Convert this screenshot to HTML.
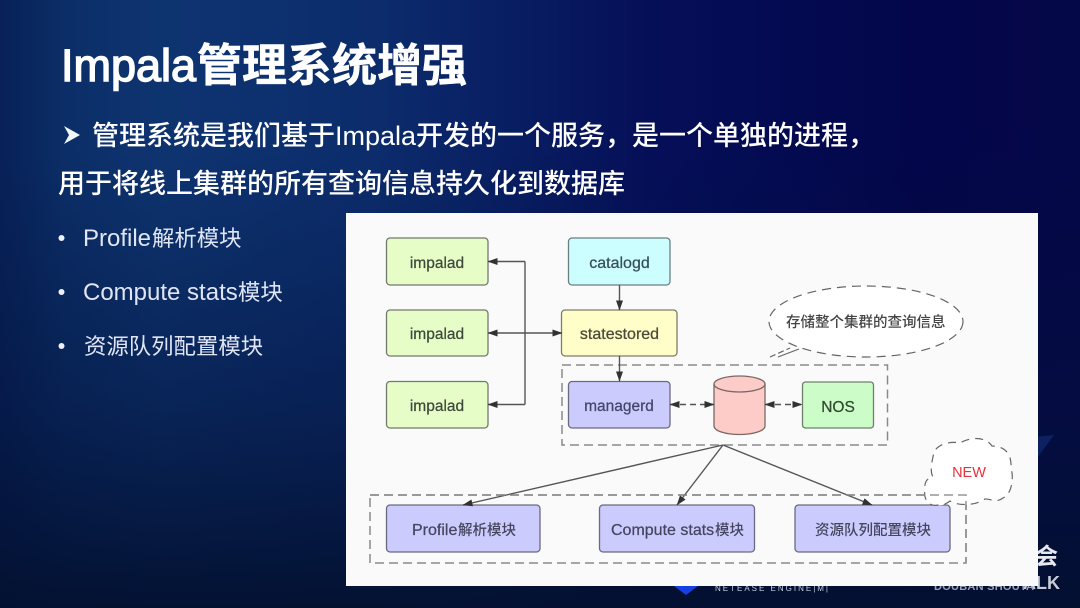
<!DOCTYPE html>
<html><head><meta charset="utf-8"><style>
html,body{margin:0;padding:0;background:#050a3a}
svg{display:block;width:1080px;height:608px}
text{font-family:"Liberation Sans","Noto Sans CJK SC",sans-serif}
</style></head><body>
<svg xmlns="http://www.w3.org/2000/svg" width="1080" height="608" viewBox="0 0 1080 608">
<defs>
<linearGradient id="bg" x1="0" y1="0" x2="1" y2="0">
<stop offset="0" stop-color="#0a2a62"/><stop offset=".15" stop-color="#0e3470"/><stop offset=".35" stop-color="#0c2c6c"/><stop offset=".6" stop-color="#050f58"/><stop offset=".85" stop-color="#03064a"/><stop offset="1" stop-color="#040748"/>
</linearGradient>
<linearGradient id="fade" x1="0" y1="0" x2="0" y2="1">
<stop offset=".25" stop-color="#03123a" stop-opacity="0"/><stop offset=".65" stop-color="#03123a" stop-opacity=".45"/><stop offset="1" stop-color="#03102f" stop-opacity=".95"/>
</linearGradient>
<linearGradient id="edge" x1="0" y1="0" x2="1" y2="0">
<stop offset="0" stop-color="#04154a" stop-opacity=".4"/><stop offset=".06" stop-color="#04154a" stop-opacity="0"/>
</linearGradient>
<marker id="a" viewBox="0 0 10 7" refX="9.500" refY="3.500" markerWidth="10" markerHeight="7" orient="auto-start-reverse" markerUnits="userSpaceOnUse"><path d="M0 0L10 3.500L0 7Z" fill="#333"/></marker>
<filter id="s" x="-2%" y="-2%" width="104%" height="104%"><feGaussianBlur stdDeviation=".35"/></filter>
</defs>
<rect width="1080" height="608" fill="url(#bg)"/>
<rect width="1080" height="608" fill="url(#edge)"/>
<rect width="1080" height="608" fill="url(#fade)"/>
<g filter="url(#s)">
<path d="M1003 440L1054 435L1032 465Z" fill="#14307a" opacity=".55"/>
<path d="M674 586H698L686 595Z" fill="#1540e0"/>
<text x="715" y="591" font-size="8" fill="#c8d0e0" textLength="113" lengthAdjust="spacing">NETEASE ENGINE|M|</text>
<text x="1035" y="564" font-size="23" fill="#e8e8f0" font-weight="700">会</text>
<text x="1060" y="589" font-size="18" fill="#c6cbd8" font-weight="700" text-anchor="end">ALK</text>
<text x="934" y="590" font-size="11" fill="#9aa2b8" font-weight="700" textLength="100" lengthAdjust="spacing">DOUBAN SHOUTA</text>

<text x="61" y="81" font-size="45" fill="#fff" stroke="#fff" stroke-width="1.400">Impala</text>
<text x="197" y="81" font-size="45" font-weight="700" fill="#fff" stroke="#fff" stroke-width=".5">管理系统增强</text>
<path d="M64 126L80 135L64 144L69 135Z" fill="#f2f4fa"/>
<text x="92" y="145" font-size="27" font-weight="500" fill="#fff">管理系统是我们基于<tspan x="335">Impala</tspan><tspan x="416">开发的一个服务，是一个单独的进程，</tspan></text>
<text x="58" y="193" font-size="27" font-weight="500" fill="#fff">用于将线上集群的所有查询信息持久化到数据库</text>
<circle cx="61.500" cy="238" r="3" fill="#eef1f8"/><circle cx="61.500" cy="292" r="3" fill="#eef1f8"/><circle cx="61.500" cy="346" r="3" fill="#eef1f8"/>
<g fill="#dfe5f4">
<text x="83" y="246" font-size="24">Profile</text><text x="152" y="246" font-size="22.400">解析模块</text>
<text x="83" y="300" font-size="24">Compute stats</text><text x="238" y="300" font-size="22.400">模块</text>
<text x="84" y="354" font-size="22.400">资源队列配置模块</text>
</g>

<rect x="346" y="213" width="692" height="373" fill="#fafafa"/>

<g stroke="#727a6e" stroke-width="1.300" fill="#e6fdc8">
<rect x="386.500" y="238" width="101.500" height="47" rx="3.500"/>
<rect x="386.500" y="310" width="101.500" height="46" rx="3.500"/>
<rect x="386.500" y="381.500" width="101.500" height="46.500" rx="3.500"/>
</g>
<rect x="568.500" y="238" width="101.500" height="47" rx="3.500" fill="#ccfdff" stroke="#6a7f84" stroke-width="1.300"/>
<rect x="561.500" y="310" width="115.500" height="46" rx="3.500" fill="#fffdc8" stroke="#7e7d6a" stroke-width="1.300"/>
<g fill="#cbcbfd" stroke="#6a6a80" stroke-width="1.300">
<rect x="568.500" y="381.500" width="101.500" height="46.500" rx="3.500"/>
<rect x="386.500" y="505" width="153.500" height="47" rx="3.500"/>
<rect x="599.500" y="505" width="155" height="47" rx="3.500"/>
<rect x="795" y="505" width="155" height="47" rx="3.500"/>
</g>
<rect x="802.500" y="382" width="71" height="46" rx="3" fill="#ccfdc8" stroke="#6e806c" stroke-width="1.300"/>

<path d="M714 384V426C714 431 726 434.500 739.500 434.500C753 434.500 765 431 765 426V384" fill="#fdcbc8" stroke="#7a6866" stroke-width="1.300"/>
<ellipse cx="739.500" cy="384" rx="25.500" ry="8" fill="#fdcbc8" stroke="#7a6866" stroke-width="1.300"/>

<g fill="none" stroke="#8a8a8a" stroke-width="1.500" stroke-dasharray="9 5">
<rect x="562" y="365" width="325.500" height="80"/>
<rect x="370" y="495" width="596" height="68"/>
</g>

<g fill="none" stroke="#555" stroke-width="1.400">
<path d="M525 261.500H488" marker-end="url(#a)"/>
<path d="M525 261.500V404.500"/>
<path d="M525 404.500H488" marker-end="url(#a)"/>
<path d="M488 333H562" marker-start="url(#a)" marker-end="url(#a)"/>
<path d="M619.500 285V310" marker-end="url(#a)"/>
<path d="M619.500 356V381" marker-end="url(#a)"/>
<path d="M723 445L463 505" marker-end="url(#a)"/>
<path d="M723 445L677 505" marker-end="url(#a)"/>
<path d="M723 445L872 505" marker-end="url(#a)"/>
<path d="M670 404.500H714" stroke-dasharray="6 4" marker-start="url(#a)" marker-end="url(#a)"/>
<path d="M765 404.500H802" stroke-dasharray="6 4" marker-start="url(#a)" marker-end="url(#a)"/>
</g>

<ellipse cx="866" cy="321.500" rx="97" ry="35.500" fill="#fff" stroke="#666" stroke-width="1.200" stroke-dasharray="9 6"/>
<path d="M770 357L790 348" fill="none" stroke="#666" stroke-width="1.200" stroke-dasharray="6 3"/>
<path d="M778 357L799 349" fill="none" stroke="#666" stroke-width="1.200"/>
<path d="M938 505C930 507 923 500 925 490C924 484 926 478 933 477C929 470 933 458 934 452C938 444 950 441 960 443C970 437 985 436 992 446C1003 446 1012 452 1011 468C1014 478 1012 494 1003 498C995 504 990 498 985 499C975 506 958 506 950 501C946 504 942 506 938 505Z" fill="#fff" stroke="#666" stroke-width="1.200" stroke-dasharray="8 6"/>
<path d="M370 495H966V563" fill="none" stroke="#8a8a8a" stroke-width="1.500" stroke-dasharray="9 5" opacity=".9"/>

<g text-anchor="middle" stroke-width=".25">
<text x="437" y="268" font-size="15.500" fill="#3e4a3a" stroke="#3e4a3a">impalad</text>
<text x="437" y="339" font-size="15.500" fill="#3e4a3a" stroke="#3e4a3a">impalad</text>
<text x="437" y="411" font-size="15.500" fill="#3e4a3a" stroke="#3e4a3a">impalad</text>
<text x="619.500" y="268" font-size="16" fill="#35505a" stroke="#35505a">catalogd</text>
<text x="619.500" y="339" font-size="16" fill="#4a4a38" stroke="#4a4a38">statestored</text>
<text x="619" y="411" font-size="15.500" fill="#45456a" stroke="#45456a">managerd</text>
<text x="838" y="412" font-size="15.500" fill="#2f4a30" stroke="#2f4a30">NOS</text>
<text x="969" y="477" font-size="14.500" fill="#e6303c">NEW</text>
</g>
<g fill="#45455f">
<text x="412" y="535" font-size="16" stroke="#45455f" stroke-width=".25">Profile</text><text x="458" y="535" font-size="14.500" font-weight="500">解析模块</text>
<text x="611" y="535" font-size="16" stroke="#45455f" stroke-width=".25">Compute stats</text><text x="715" y="535" font-size="14.500" font-weight="500">模块</text>
<text x="815" y="535" font-size="14.500" font-weight="500">资源队列配置模块</text>
</g>
<text x="786" y="327" font-size="14.500" fill="#444" font-weight="500">存储整个集群的查询信息</text>
</g>
</svg>
</body></html>
